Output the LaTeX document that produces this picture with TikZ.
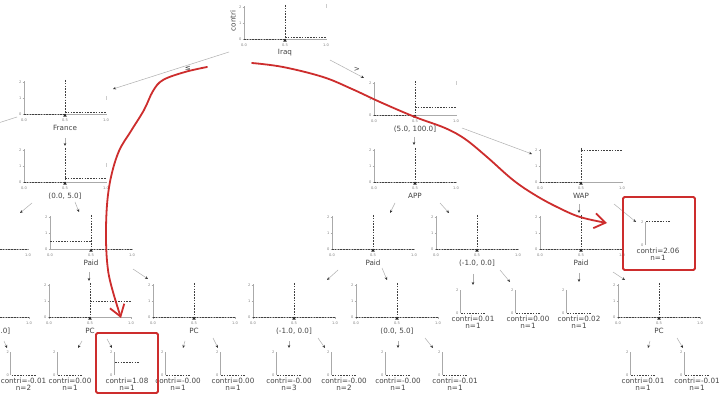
\documentclass[tikz,border=0pt]{standalone}
\usepackage{fontspec}
\setmainfont{DejaVu Sans}
\usetikzlibrary{arrows.meta}
\definecolor{annot}{RGB}{205,45,45}
\definecolor{axisgray}{RGB}{170,170,170}
\definecolor{txt}{RGB}{68,68,68}
\definecolor{edgegray}{RGB}{175,175,175}
\tikzset{
 axisline/.style={draw=axisgray, line width=0.5pt},
 dashln/.style={draw=black!75, line width=0.55pt, dash pattern=on 1.6pt off 1.2pt},
 ticklbl/.style={font=\fontsize{3.6}{4}\selectfont, text=black!50, inner sep=0pt},
 lbl/.style={font=\fontsize{7.2}{8}\selectfont, text=txt, inner sep=0pt},
 edgeln/.style={draw=edgegray, line width=0.5pt, -{Stealth[length=3pt,width=2.6pt,color=black!80]}},
 annotline/.style={draw=annot, line width=1.8pt, line cap=round, line join=round},
 annotbox/.style={draw=annot, line width=1.8pt, rounded corners=1.5pt},
 faint/.style={draw=black!20, line width=0.5pt},
}
% internal split plot: name, x0, y0, left value, right value, label
\newcommand{\iplot}[6]{%
\begin{scope}[shift={(#2,#3)}]
 \draw[axisline] (0,0) -- (0,-33);
 \foreach \t/\l in {0/0,16/1,32/2} {\draw[axisline] (-1.5,-\t) -- (0,-\t); \node[ticklbl,anchor=east] at (-2.5,-\t) {\l};}
 \draw[axisline] (0,0) -- (82,0);
 \foreach \t/\l in {0/0.0,41/0.5,82/1.0} {\draw[axisline] (\t,0) -- (\t,1.5); \node[ticklbl] at (\t,6) {\l};}
 \draw[dashln] (0,-#4*16) -- (41,-#4*16);
 \draw[dashln] (41,-#5*16) -- (82,-#5*16);
 \draw[dashln] (41,-34) -- (41,0);
 \fill[black!85] (41,-0.3) -- (39.2,2.6) -- (42.8,2.6) -- cycle;
 \node[lbl] (#1) at (41,14) {#6};
\end{scope}}
% visible right part of a plot cut by the left edge: x end, y0
\newcommand{\cutplot}[2]{%
 \draw[axisline] (0,#2) -- (#1,#2);
 \draw[axisline] (#1,#2) -- (#1,#2+1.5);
 \node[ticklbl] at (#1,#2+6) {1.0};
 \draw[dashln] (0,#2) -- (#1,#2);}
% leaf plot: name, centre x, y0, value, contri text, n
\newcommand{\leafplot}[6]{%
\begin{scope}[shift={(#2,#3)}]
 \draw[axisline] (-13,0) -- (-13,-23);
 \node[ticklbl,anchor=east] at (-14.5,-23) {2};
 \node[ticklbl,anchor=east] at (-14.5,0) {0};
 \draw[dashln] (-12,-#4*11.5) -- (12,-#4*11.5);
 \node[lbl] (#1) at (0,5.5) {contri=#5};
 \node[lbl] (#1n) at (0,12.5) {n=#6};
\end{scope}}
\newcommand{\edgeconn}[3]{%
 \coordinate (#1a) at (#2); \coordinate (#1b) at (#3);
 \draw[edgeln] (#1a) -- (#1b);}
\begin{document}
\begin{tikzpicture}[x=1pt,y=-1pt]
\useasboundingbox (0,0) rectangle (720,395);
\clip (0,0) rectangle (720,395);
\fill[white] (0,0) rectangle (720,395);
% ---- split plots
\iplot{root}{244}{39}{0}{0.12}{Iraq}
\node[lbl,rotate=90] (ylab) at (233,21) {contri};
\iplot{france}{24}{114}{0}{0.08}{France}
\iplot{r5}{374}{115}{0}{0.5}{(5.0, 100.0]}
\iplot{r05a}{24}{182}{0}{0.25}{(0.0, 5.0]}
\iplot{app}{374}{182}{0}{0}{APP}
\iplot{wap}{540}{182}{0}{2}{WAP}
\cutplot{28}{249}
\iplot{paidA}{50}{249}{0.5}{0}{Paid}
\iplot{paidB}{332}{249}{0}{0}{Paid}
\iplot{m10a}{436}{249}{0}{0}{(-1.0, 0.0]}
\iplot{paidC}{540}{249}{0}{0}{Paid}
\cutplot{29}{317}
\node[lbl,anchor=east] (cut4) at (10.5,331) {.0]};
\iplot{pcA}{49}{317}{0}{1}{PC}
\iplot{pcB}{153}{317}{0}{0}{PC}
\iplot{m10b}{253}{317}{0}{0}{(-1.0, 0.0]}
\iplot{r05b}{356}{317}{0}{0}{(0.0, 5.0]}
\iplot{pcC}{618}{317}{0}{0}{PC}
% faint marks at the right of some plots
\draw[faint] (326,4) -- (326,8);
\draw[faint] (456,81) -- (456,85);
\draw[faint] (106,96) -- (106,100);
\draw[faint] (106,163) -- (106,167);
% ---- leaves
\leafplot{l206}{658}{245}{2.06}{2.06}{1}
\leafplot{l01a}{473}{313}{0}{0.01}{1}
\leafplot{l00a}{528}{313}{0}{0.00}{1}
\leafplot{l02}{579}{313}{0}{0.02}{1}
\leafplot{lm01a}{23.5}{375}{0}{-0.01}{2}
\leafplot{l00b}{70}{375}{0}{0.00}{1}
\leafplot{l108}{127}{375}{1.08}{1.08}{1}
\leafplot{lm00a}{178}{375}{0}{-0.00}{1}
\leafplot{l00c}{233}{375}{0}{0.00}{1}
\leafplot{lm00b}{289}{375}{0}{-0.00}{3}
\leafplot{lm00c}{344}{375}{0}{-0.00}{2}
\leafplot{lm00d}{398}{375}{0}{-0.00}{1}
\leafplot{lm01b}{455}{375}{0}{-0.01}{1}
\leafplot{l01b}{643}{375}{0}{0.01}{1}
\leafplot{lm01c}{697}{375}{0}{-0.01}{1}
% ---- connectors
\edgeconn{eA}{229,52}{113,89}
\node[lbl] (le) at (188,68) {≤};
\edgeconn{eB}{330,60}{364,78}
\node[lbl] (gt) at (357,69) {>};
\edgeconn{eC}{17,117}{-8,125}
\edgeconn{eD}{65,138}{65,146}
\edgeconn{eE}{414,137}{414,145}
\edgeconn{eF}{462,128}{532,154}
\edgeconn{eG}{32,203}{20,213}
\edgeconn{eH}{75,202}{79,212}
\edgeconn{eI}{395,203}{390,213}
\edgeconn{eJ}{440,203}{449,213}
\edgeconn{eK}{579,204}{579,213}
\edgeconn{eL}{614,204}{636,222}
\edgeconn{eM}{89,272}{89,281}
\edgeconn{eN}{133,269}{148,279}
\edgeconn{eO}{338,270}{327,280}
\edgeconn{eP}{382,268}{387,280}
\edgeconn{eQ}{473,274}{473,285}
\edgeconn{eR}{500,270}{510,282}
\edgeconn{eS}{579,273}{579,282}
\edgeconn{eT}{613,272}{625,280}
\edgeconn{eU}{82,341}{78,348}
\edgeconn{eV}{107,339}{112,348}
\edgeconn{eW}{185,341}{183,348}
\edgeconn{eX}{213,338}{218,348}
\edgeconn{eY}{289,341}{289,348}
\edgeconn{eZ}{318,338}{325,348}
\edgeconn{fA}{398,341}{398,348}
\edgeconn{fB}{425,338}{433,348}
\edgeconn{fC}{650,341}{648,348}
\edgeconn{fD}{677,338}{683,348}
\edgeconn{fE}{4,341}{7,348}
% ---- red annotations
\draw[annotbox] (96,333) rectangle (158,393);
\draw[annotbox] (623,197) rectangle (695,270);
\draw[annotline, -{Straight Barb[length=11pt,width=15pt,line width=1.8pt]}] plot[smooth, tension=0.6] coordinates {(207,67) (185,72) (163,80) (153,91) (144,110) (131,131) (119,151) (111,177) (107,205) (106,240) (108,270) (113,292) (121,318)};
\draw[annotline, -{Straight Barb[length=11pt,width=15pt,line width=1.8pt]}] plot[smooth, tension=0.6] coordinates {(252,63) (283,67) (323,77) (352,89) (380,102) (415,117) (445,128) (465,139) (487,157) (513,180) (535,195) (557,207) (580,217) (607,223)};
\end{tikzpicture}
\end{document}
